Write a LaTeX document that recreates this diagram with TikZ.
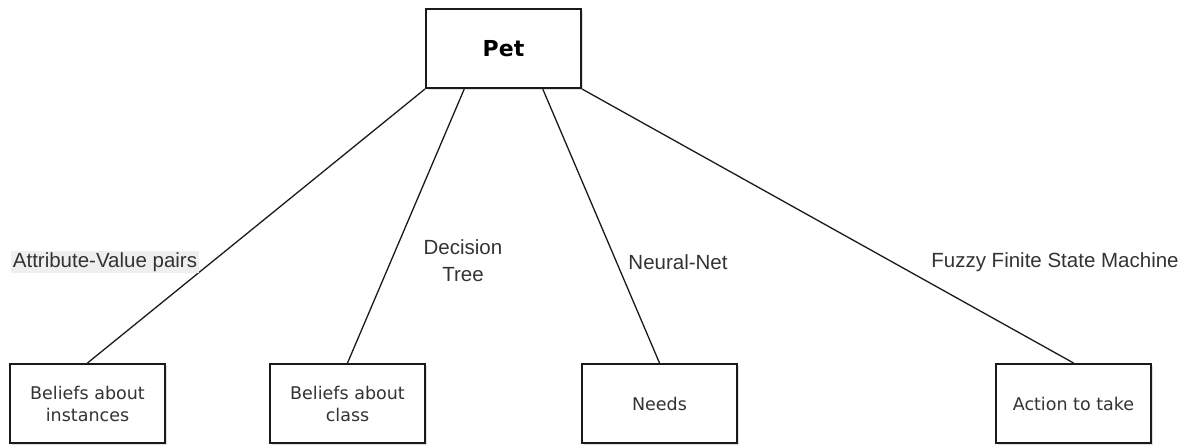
\documentclass[tikz,border=0pt]{standalone}
\usepackage{fontspec}
\setmainfont{Liberation Sans}
\newfontfamily\boxfont{DejaVu Sans}
\usetikzlibrary{shadows,calc,backgrounds}
\definecolor{txt}{HTML}{333333}
\definecolor{edgec}{HTML}{1a1a1a}
\definecolor{lblbg}{HTML}{EFEFEF}
\begin{document}
\begin{tikzpicture}[x=1pt,y=-1pt,
  box/.style={draw=edgec, line width=2pt, fill=white, minimum width=155pt,
    minimum height=79pt, inner sep=0pt, align=center,
    font=\boxfont\fontsize{17.5}{22}\selectfont, text=txt,
    drop shadow={shadow xshift=2pt, shadow yshift=-2pt, opacity=0.25, fill=gray}},
  lbl/.style={font=\fontsize{20.5}{27}\selectfont, text=txt, inner sep=1.5pt, align=center},
  conn/.style={draw=edgec, line width=1.3pt}]
\useasboundingbox (0,0) rectangle (1188,446);
\node[box, font=\boxfont\bfseries\fontsize{22}{26}\selectfont, text=black] (pet) at (503.5,48.5) {Pet};
\node[box] (inst) at (87.5,403.5) {Beliefs about\\instances};
\node[box] (cls) at (347.5,403.5) {Beliefs about\\class};
\node[box] (needs) at (659.5,403.5) {Needs};
\node[box] (act) at (1073.5,403.5) {Action to take};
\begin{pgfonlayer}{background}
\draw[conn] (pet.south west) -- (inst.north);
\draw[conn] ($(pet.south west)!0.25!(pet.south east)$) -- (cls.north);
\draw[conn] ($(pet.south west)!0.75!(pet.south east)$) -- (needs.north);
\draw[conn] (pet.south east) -- (act.north);
\end{pgfonlayer}
\node[lbl, fill=lblbg] (l1) at (105,262) {Attribute-Value pairs};
\node[lbl] (l2) at (463,261) {Decision\\Tree};
\node[lbl] (l3) at (678,262) {Neural-Net};
\node[lbl] (l4) at (1055,262) {Fuzzy Finite State Machine};
\end{tikzpicture}
\end{document}
